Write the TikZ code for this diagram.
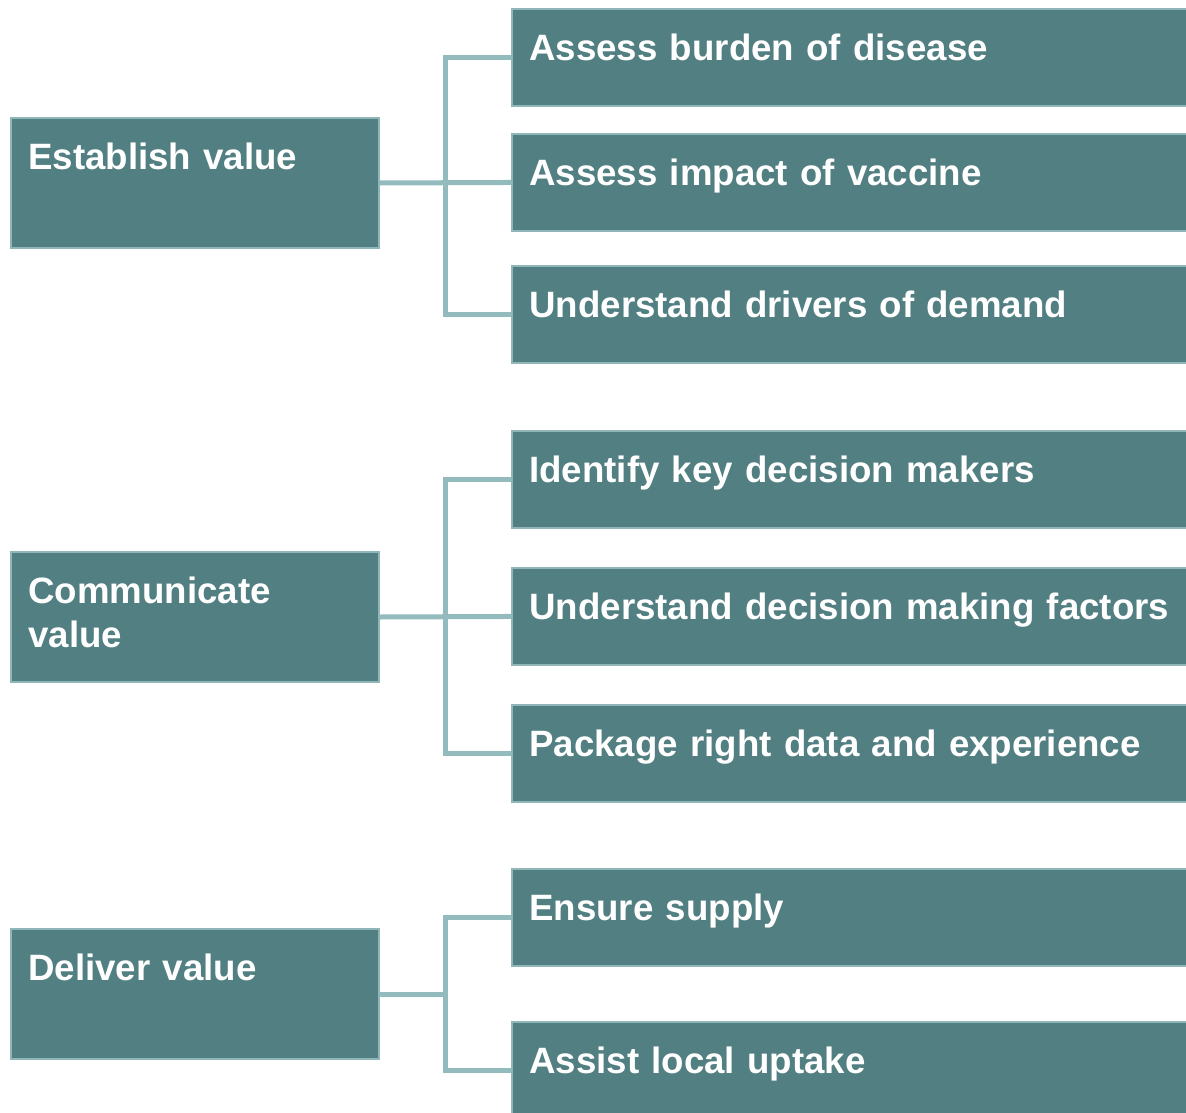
\documentclass[tikz,border=0pt]{standalone}
\usepackage{fontspec}
\setmainfont{Liberation Sans}

\definecolor{boxfill}{RGB}{82,127,130}
\definecolor{boxedge}{RGB}{145,182,185}
\definecolor{linkcol}{RGB}{147,186,189}

\tikzset{
  stepbox/.style={draw=boxedge, line width=1.5pt, fill=boxfill, text=white,
    font=\bfseries\fontsize{27.5}{33}\selectfont, anchor=north west,
    inner xsep=13pt, inner ysep=0pt, align=left, text height=38.6pt},
  mainbox/.style={stepbox, text width=250pt, text depth=58.9pt},
  subbox/.style={stepbox, text width=498pt, text depth=34.1pt},
  link/.style={draw=linkcol, line width=3.75pt}
}

\begin{document}
\begin{tikzpicture}[x=0.75pt,y=0.75pt,yscale=-1]
\useasboundingbox (0,0) rectangle (1186,1113);

%Shape: Rectangle [establish]
\node[mainbox] (est) at (10,117) {Establish value};
%Shape: Rectangle [communicate]
\node[mainbox] (com) at (10,551) {Communicate\\value};
%Shape: Rectangle [deliver]
\node[mainbox] (del) at (10,928) {Deliver value};

%Shape: Rectangle [steps]
\node[subbox] (burden) at (511,8) {Assess burden of disease};
\node[subbox] (impact) at (511,133) {Assess impact of vaccine};
\node[subbox] (drivers) at (511,265) {Understand drivers of demand};
\node[subbox] (makers) at (511,430) {Identify key decision makers};
\node[subbox] (factors) at (511,567) {Understand decision making factors};
\node[subbox] (package) at (511,704) {Package right data and experience};
\node[subbox] (supply) at (511,868) {Ensure supply};
\node[subbox] (uptake) at (511,1021) {Assist local uptake};

%trunk of the brackets
\coordinate (trunk) at (445,0);

%Straight Lines [establish]
\draw[link] (est.east) -- (impact.west);
\draw[link] (burden.west) -| (trunk |- drivers.west) -- (drivers.west);
%Straight Lines [communicate]
\draw[link] (com.east) -- (factors.west);
\draw[link] (makers.west) -| (trunk |- package.west) -- (package.west);
%Straight Lines [deliver]
\draw[link] (del.east) -- (del.east -| trunk);
\draw[link] (supply.west) -| (trunk |- uptake.west) -- (uptake.west);

\end{tikzpicture}
\end{document}
